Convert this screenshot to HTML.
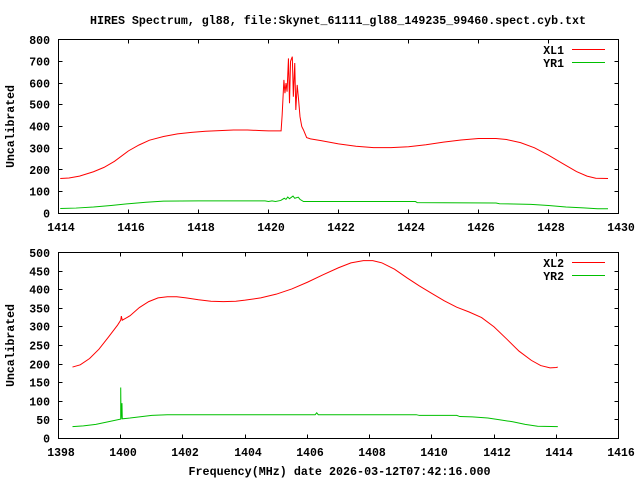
<!DOCTYPE html>
<html><head><meta charset="utf-8"><style>
html,body{margin:0;padding:0;background:#fff;}
svg{display:block;}
text{font-family:"Liberation Mono",monospace;font-weight:bold;font-size:11.5px;fill:#000;}
</style></head><body>
<svg width="640" height="480" viewBox="0 0 640 480" xmlns="http://www.w3.org/2000/svg">
<rect width="640" height="480" fill="#fff"/>
<text x="338" y="24" text-anchor="middle" textLength="496" lengthAdjust="spacingAndGlyphs">HIRES Spectrum, gl88, file:Skynet_61111_gl88_149235_99460.spect.cyb.txt</text>

<!-- TOP PLOT -->
<g shape-rendering="crispEdges" stroke="#000" stroke-width="1" fill="none">
<rect x="58.5" y="39.5" width="560" height="174"/>
<path d="M58.5 191.5h4M58.5 169.5h4M58.5 148.5h4M58.5 126.5h4M58.5 104.5h4M58.5 83.5h4M58.5 61.5h4
M618.5 191.5h-4M618.5 169.5h-4M618.5 148.5h-4M618.5 126.5h-4M618.5 104.5h-4M618.5 83.5h-4M618.5 61.5h-4
M128.5 213.5v-4M198.5 213.5v-4M268.5 213.5v-4M338.5 213.5v-4M408.5 213.5v-4M478.5 213.5v-4M548.5 213.5v-4
M128.5 39.5v4M198.5 39.5v4M268.5 39.5v4M338.5 39.5v4M408.5 39.5v4M478.5 39.5v4M548.5 39.5v4"/>
</g>
<g text-anchor="end">
<text x="50" y="217.5">0</text><text x="50" y="195.5">100</text><text x="50" y="174">200</text>
<text x="50" y="152.5">300</text><text x="50" y="130.5">400</text><text x="50" y="108.5">500</text>
<text x="50" y="87.5">600</text><text x="50" y="65.5">700</text><text x="50" y="44">800</text>
</g>
<g text-anchor="middle">
<text x="61" y="231">1414</text><text x="131" y="231">1416</text><text x="201" y="231">1418</text>
<text x="271" y="231">1420</text><text x="341" y="231">1422</text><text x="411" y="231">1424</text>
<text x="481" y="231">1426</text><text x="551" y="231">1428</text><text x="621" y="231">1430</text>
</g>
<text transform="translate(14,126.5) rotate(-90)" text-anchor="middle">Uncalibrated</text>

<g transform="translate(58.5,213.5) scale(35,-0.2175) translate(-1414,0)" fill="none" stroke-linejoin="miter">
<polyline vector-effect="non-scaling-stroke" stroke="#ff0000" stroke-width="1" points="
1414.05,161 1414.3,163 1414.6,172 1415.0,192 1415.3,212 1415.6,240 1416.0,288 1416.3,315 1416.6,337 1417.0,354 1417.4,366 1417.8,373 1418.2,378 1418.6,381 1419.0,384 1419.4,384 1419.8,381 1420.0,380 1420.36,380
1420.39,453 1420.44,614 1420.47,553 1420.5,600 1420.53,560 1420.57,713 1420.6,507 1420.63,700 1420.68,721 1420.71,537 1420.75,692 1420.78,476 1420.82,591 1420.86,522 1420.9,445 1420.95,400 1421.0,384 1421.09,349 1421.2,343
1421.5,335 1422.0,320 1422.5,309 1423.0,303 1423.5,303 1424.0,307 1424.5,316 1425.0,328 1425.5,338 1426.0,345 1426.5,345 1426.8,340 1427.2,326 1427.6,302 1428.0,268 1428.4,230 1428.8,193 1429.1,172 1429.35,162 1429.7,161"/>
<polyline vector-effect="non-scaling-stroke" stroke="#00c000" stroke-width="1" points="
1414.05,23 1414.5,25 1415.0,30 1415.5,37 1416.0,45 1416.5,52 1417.0,57 1418,58 1419,58 1419.9,58 1420.0,55 1420.1,58 1420.2,55 1420.35,60 1420.45,70 1420.5,65 1420.55,76 1420.6,68 1420.7,80 1420.75,70 1420.85,75 1420.9,65 1421.0,55 1422,55 1424.2,55 1424.25,50 1426.5,48 1426.6,45 1427.5,42 1428,37 1428.5,30 1429,26 1429.4,22 1429.7,22"/>
</g>
<g stroke-width="1" shape-rendering="crispEdges">
<text x="564" y="54" text-anchor="end">XL1</text>
<line x1="572" y1="49.5" x2="605" y2="49.5" stroke="#ff0000"/>
<text x="564" y="67" text-anchor="end">YR1</text>
<line x1="572" y1="62.5" x2="605" y2="62.5" stroke="#00c000"/>
</g>

<!-- BOTTOM PLOT -->
<g shape-rendering="crispEdges" stroke="#000" stroke-width="1" fill="none">
<rect x="58.5" y="252.5" width="560" height="186"/>
<path d="M58.5 419.5h4M58.5 401.5h4M58.5 382.5h4M58.5 364.5h4M58.5 345.5h4M58.5 326.5h4M58.5 308.5h4M58.5 289.5h4M58.5 271.5h4
M618.5 419.5h-4M618.5 401.5h-4M618.5 382.5h-4M618.5 364.5h-4M618.5 345.5h-4M618.5 326.5h-4M618.5 308.5h-4M618.5 289.5h-4M618.5 271.5h-4
M120.5 438.5v-4M182.5 438.5v-4M245.5 438.5v-4M307.5 438.5v-4M369.5 438.5v-4M431.5 438.5v-4M494.5 438.5v-4M556.5 438.5v-4
M120.5 252.5v4M182.5 252.5v4M245.5 252.5v4M307.5 252.5v4M369.5 252.5v4M431.5 252.5v4M494.5 252.5v4M556.5 252.5v4"/>
</g>
<g text-anchor="end">
<text x="50" y="442.5">0</text><text x="50" y="424">50</text><text x="50" y="405.5">100</text>
<text x="50" y="386.5">150</text><text x="50" y="368.5">200</text><text x="50" y="349.5">250</text>
<text x="50" y="330.5">300</text><text x="50" y="312.5">350</text><text x="50" y="293.5">400</text>
<text x="50" y="275.5">450</text><text x="50" y="257">500</text>
</g>
<g text-anchor="middle">
<text x="61" y="456">1398</text><text x="123" y="456">1400</text><text x="185" y="456">1402</text>
<text x="248" y="456">1404</text><text x="310" y="456">1406</text><text x="372" y="456">1408</text>
<text x="434" y="456">1410</text><text x="497" y="456">1412</text><text x="559" y="456">1414</text>
<text x="621" y="456">1416</text>
</g>
<text transform="translate(14,345.5) rotate(-90)" text-anchor="middle">Uncalibrated</text>
<text x="339.5" y="475" text-anchor="middle" textLength="302" lengthAdjust="spacingAndGlyphs">Frequency(MHz) date 2026-03-12T07:42:16.000</text>

<g transform="translate(58.5,438.5) scale(31.111,-0.372) translate(-1398,0)" fill="none">
<polyline vector-effect="non-scaling-stroke" stroke="#ff0000" stroke-width="1" points="
1398.45,192 1398.7,198 1399.0,215 1399.3,240 1399.6,272 1399.9,305 1400.0,318 1400.02,329 1400.05,318 1400.3,330 1400.6,352 1400.9,368 1401.2,378 1401.5,381 1401.8,381 1402.1,378 1402.5,373 1402.9,369 1403.3,368 1403.7,369 1404.0,372 1404.5,378 1405.0,388 1405.5,402 1406.0,420 1406.5,440 1407.0,459 1407.4,472 1407.8,478 1408.1,478 1408.4,472 1408.8,455 1409.2,432 1409.6,410 1410.0,390 1410.4,370 1410.8,353 1411.2,340 1411.6,325 1412.0,300 1412.4,268 1412.8,235 1413.2,210 1413.5,196 1413.8,190 1414.0,191 1414.05,192"/>
<polyline vector-effect="non-scaling-stroke" stroke="#00c000" stroke-width="1" points="
1398.45,32 1398.8,34 1399.2,38 1399.6,45 1400.0,52 1400.0,137 1400.01,52 1400.04,95 1400.05,53 1400.3,55 1400.7,59 1401.0,62 1401.5,64 1406.25,64 1406.3,69 1406.35,64 1409.5,64 1409.6,62 1410.8,62 1410.9,59 1411.3,58 1411.8,55 1412.2,50 1412.6,45 1413.0,38 1413.4,33 1414.05,32"/>
</g>
<g stroke-width="1" shape-rendering="crispEdges">
<text x="564" y="267" text-anchor="end">XL2</text>
<line x1="572" y1="262.5" x2="605" y2="262.5" stroke="#ff0000"/>
<text x="564" y="280" text-anchor="end">YR2</text>
<line x1="572" y1="275.5" x2="605" y2="275.5" stroke="#00c000"/>
</g>
</svg>
</body></html>
